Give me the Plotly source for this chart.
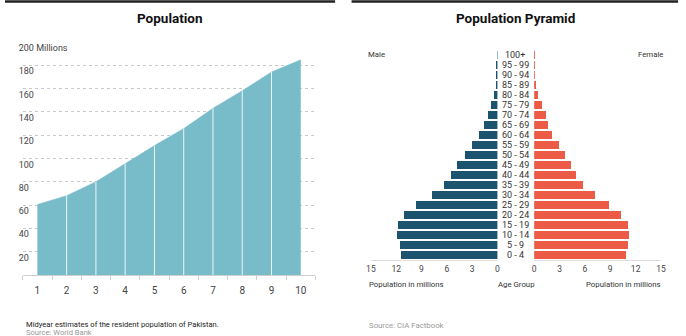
import plotly.graph_objects as go

W, H = 686, 336

# ---------------- data ----------------
years_idx = [1, 2, 3, 4, 5, 6, 7, 8, 9, 10]
population = [60.5, 68, 80, 95.5, 111, 125.5, 143, 158, 174, 184.5]
pop_tickvals = [20, 40, 60, 80, 100, 120, 140, 160, 180, 200]
pop_ticktext = ["20", "40", "60", "80", "100", "120", "140", "160", "180", "200 Millions"]

age_groups = ["0 - 4", "5 - 9", "10 - 14", "15 - 19", "20 - 24", "25 - 29", "30 - 34",
              "35 - 39", "40 - 44", "45 - 49", "50 - 54", "55 - 59", "60 - 64", "65 - 69",
              "70 - 74", "75 - 79", "80 - 84", "85 - 89", "90 - 94", "95 - 99", "100+"]
male = [11.49, 11.61, 11.96, 11.76, 11.03, 9.66, 7.79, 6.35, 5.46, 4.75, 3.9, 3.04,
        2.15, 1.56, 1.17, 0.78, 0.47, 0.22, 0.1, 0.07, 0.05]
female = [10.9, 11.06, 11.21, 11.06, 10.28, 8.91, 7.2, 5.84, 4.98, 4.4, 3.62, 2.95,
          2.18, 1.67, 1.37, 0.9, 0.5, 0.2, 0.1, 0.07, 0.05]
pyr_ticks = [0, 3, 6, 9, 12, 15]

TEAL = "#78bcca"
NAVY = "#1c5470"
CORAL = "#ec5b45"
FONT = "Roboto"


def px(x):
    return x / W


def py(y):
    return 1 - y / H


fig = go.Figure()

# ---------------- left: population area ----------------
fig.add_trace(go.Scatter(
    x=years_idx, y=population, mode="lines", fill="tozeroy",
    fillcolor=TEAL, line=dict(color=TEAL, width=0.5),
    xaxis="x", yaxis="y", hoverinfo="skip", showlegend=False))

sep_x, sep_y = [], []
for xi, yi in zip(years_idx[1:-1], population[1:-1]):
    sep_x += [xi, xi, None]
    sep_y += [0, yi, None]
fig.add_trace(go.Scatter(
    x=sep_x, y=sep_y, mode="lines", line=dict(color="rgba(255,255,255,0.85)", width=1),
    xaxis="x", yaxis="y", hoverinfo="skip", showlegend=False))

# ---------------- right: pyramid ----------------
rows = list(range(len(age_groups)))
fig.add_trace(go.Bar(
    x=male, y=rows, orientation="h", marker=dict(color=NAVY, line=dict(width=0)),
    width=0.76, xaxis="x3", yaxis="y3", hoverinfo="skip", showlegend=False))
fig.add_trace(go.Bar(
    x=female, y=rows, orientation="h", marker=dict(color=CORAL, line=dict(width=0)),
    width=0.76, xaxis="x4", yaxis="y3", hoverinfo="skip", showlegend=False))

tickfont = dict(family=FONT, size=8.5, color="#444")

fig.update_layout(
    width=W, height=H, margin=dict(l=0, r=0, t=0, b=0),
    paper_bgcolor="white", plot_bgcolor="rgba(0,0,0,0)",
    font=dict(family=FONT, color="#333"),
    bargap=0,
    xaxis=dict(
        domain=[px(18), px(315)], range=[0.5, 10.5], anchor="y",
        tickvals=years_idx, ticktext=[str(v) for v in years_idx], ticks="",
        showgrid=False, zeroline=False, showline=True, linecolor="#cfcfcf", linewidth=1,
        tickfont=dict(family=FONT, size=10, color="#444"), ticklabelstandoff=6,
        minor=dict(tickvals=[v - 0.5 for v in years_idx] + [10.5], ticks="outside",
                   ticklen=4, tickcolor="#cfcfcf", tickwidth=1, showgrid=False),
        fixedrange=True),
    yaxis=dict(
        domain=[py(275), py(41.7)], range=[0, 200], anchor="x",
        tickvals=pop_tickvals, ticktext=pop_ticktext, ticks="",
        ticklabelposition="inside", ticklabelshift=6, ticklabelstandoff=-7,
        ticklabeloverflow="allow",
        showgrid=True, gridcolor="#c8c8c8", griddash="dot", gridwidth=1,
        zeroline=False, showline=False,
        tickfont=dict(family=FONT, size=9, color="#444"), fixedrange=True),
    xaxis3=dict(
        domain=[px(371.3), px(499.7)], range=[15, 0], anchor="y3",
        tickvals=pyr_ticks, ticks="", showgrid=False, zeroline=False,
        showline=True, linecolor="#dddddd", linewidth=1,
        tickfont=tickfont, ticklabelstandoff=1, fixedrange=True),
    xaxis4=dict(
        domain=[px(537), px(665.7)], range=[0, 15], anchor="y3",
        tickvals=pyr_ticks, ticks="", showgrid=False, zeroline=False,
        showline=True, linecolor="#dddddd", linewidth=1,
        tickfont=tickfont, ticklabelstandoff=1, fixedrange=True),
    yaxis3=dict(
        domain=[py(259.5), py(49.5)], range=[-0.5, 20.5], anchor="x3",
        showticklabels=False, ticks="", showgrid=False, zeroline=False,
        showline=False, fixedrange=True),
)

ann = []
# titles
ann.append(dict(text="<b>Population</b>", x=px(167), y=py(18), xref="paper", yref="paper",
                showarrow=False, xanchor="center", yanchor="middle",
                font=dict(family=FONT, size=13.5, color="#111")))
ann.append(dict(text="<b>Population Pyramid</b>", x=px(518), y=py(18), xref="paper", yref="paper",
                showarrow=False, xanchor="center", yanchor="middle",
                font=dict(family=FONT, size=13.5, color="#111")))
# age labels
for r, g in zip(rows, age_groups):
    ann.append(dict(text=g, x=px(518), y=r, xref="paper", yref="y3", showarrow=False,
                    xanchor="center", yanchor="middle",
                    font=dict(family=FONT, size=9, color="#333")))
# pyramid labels
small = dict(family=FONT, size=7.8, color="#333")
ann += [
    dict(text="Male", x=px(366), y=py(55), xanchor="left"),
    dict(text="Female", x=px(670), y=py(55), xanchor="right"),
    dict(text="Population in millions", x=px(367), y=py(284), xanchor="left"),
    dict(text="Age Group", x=px(519), y=py(284), xanchor="center"),
    dict(text="Population in millions", x=px(668), y=py(284), xanchor="right"),
]
for a in ann[-5:]:
    a.update(xref="paper", yref="paper", showarrow=False, yanchor="middle", font=small)
ann.append(dict(text="Source: CIA Factbook", x=px(367), y=py(325), xref="paper", yref="paper",
                showarrow=False, xanchor="left", yanchor="middle",
                font=dict(family=FONT, size=7.8, color="#999")))
ann.append(dict(text="Midyear estimates of the resident population of Pakistan.", x=px(19),
                y=py(324.5), xref="paper", yref="paper", showarrow=False, xanchor="left",
                yanchor="middle", font=dict(family=FONT, size=7.6, color="#222")))
ann.append(dict(text="Source: World Bank", x=px(19), y=py(332), xref="paper", yref="paper",
                showarrow=False, xanchor="left", yanchor="middle",
                font=dict(family=FONT, size=7.6, color="#999")))
fig.update_layout(annotations=ann)

fig.update_layout(shapes=[
    dict(type="line", xref="paper", yref="paper", x0=0, x1=px(335), y0=py(1.5), y1=py(1.5),
         line=dict(color="#222", width=2.5)),
    dict(type="line", xref="paper", yref="paper", x0=px(351.7), x1=px(683), y0=py(1.5), y1=py(1.5),
         line=dict(color="#222", width=2.5)),
])

fig.write_html("out.html")
